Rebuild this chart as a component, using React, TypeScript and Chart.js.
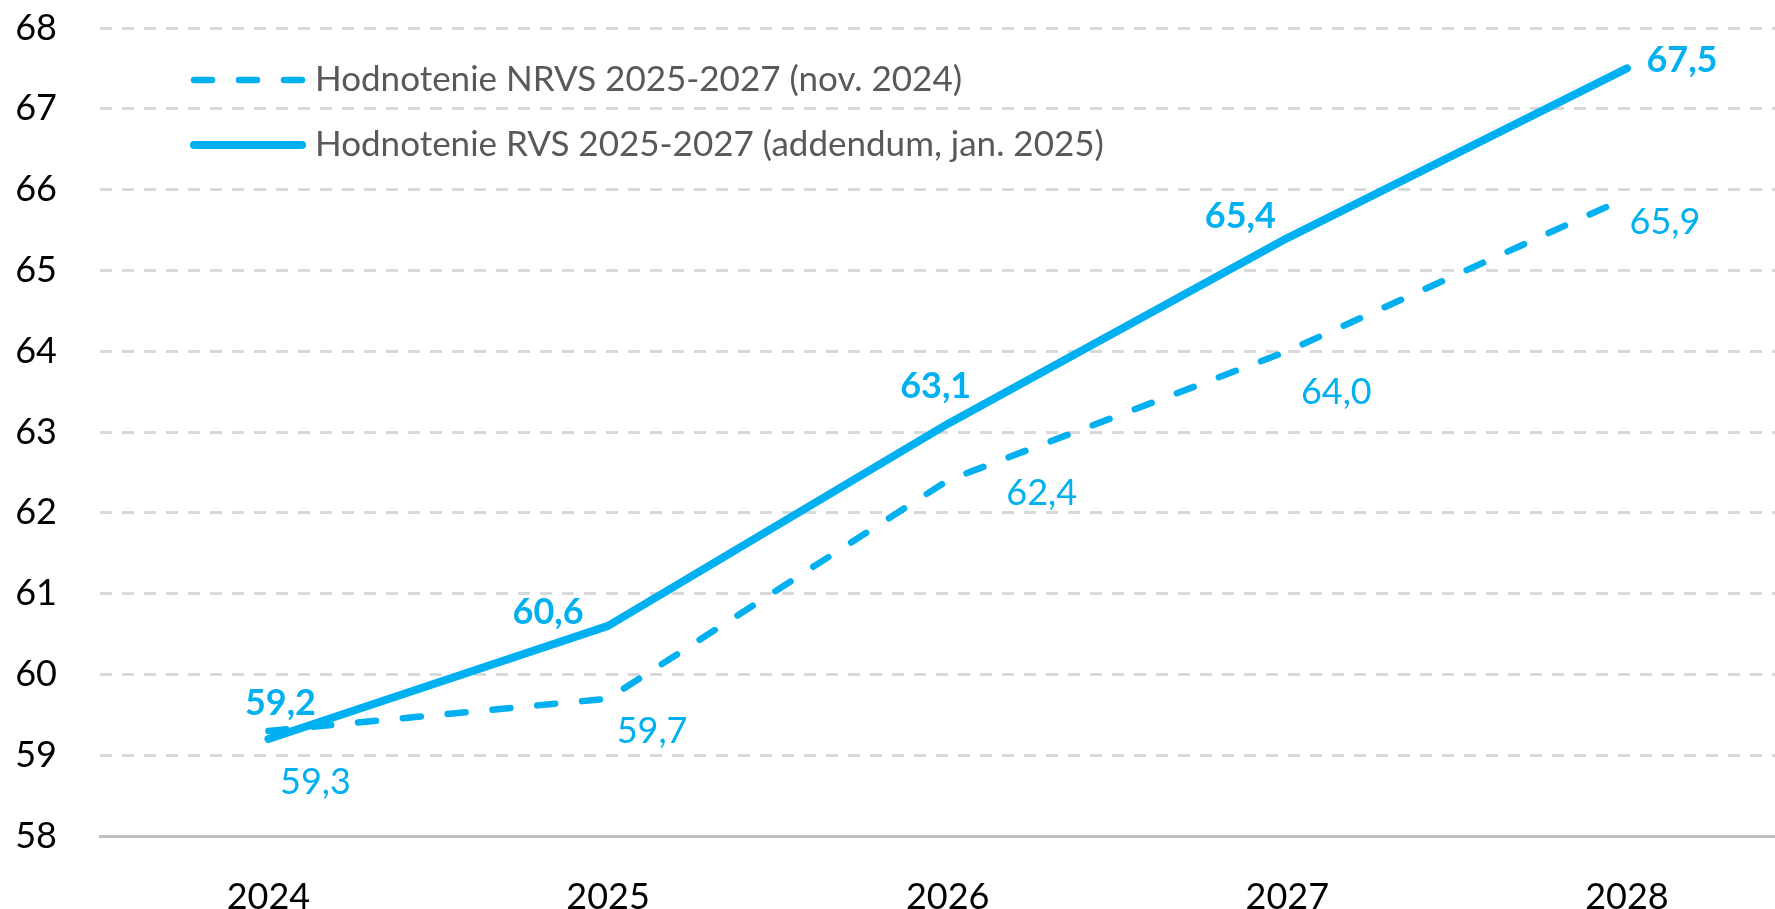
import React, { useEffect, useRef } from "react";
import { Chart, registerables } from "chart.js";

Chart.register(...registerables);

const categories = [2024, 2025, 2026, 2027, 2028];
const tickLabels = ["2024", "2025", "2026", "2027", "2028"];
const nrvsValues = [59.3, 59.7, 62.4, 64.0, 65.9];
const rvsValues = [59.2, 60.6, 63.1, 65.4, 67.5];
const nrvsLabel = "Hodnotenie NRVS 2025-2027 (nov. 2024)";
const rvsLabel = "Hodnotenie RVS 2025-2027 (addendum, jan. 2025)";

// label placement (pixel offsets of label centre from the point)
const nrvsLabelOffsets = [[47, 51], [44, 33], [94, 13], [49, 41], [38, 25]];
const rvsLabelOffsets = [[12, -36], [-60, -14], [-12, -38], [-47, -22], [55, -8]];

const BLUE = "#00B0F0";
const FONT = "Lato, 'Noto Sans', sans-serif";

const fmt = (v: number) => v.toFixed(1).replace(".", ",");

const labelPlugin = {
  id: "pointLabels",
  afterDatasetsDraw(chart: any) {
    const ctx = chart.ctx;
    ctx.save();
    ctx.textAlign = "center";
    ctx.textBaseline = "middle";
    ctx.fillStyle = BLUE;
    chart.data.datasets.forEach((ds: any, i: number) => {
      const meta = chart.getDatasetMeta(i);
      const offs = i === 0 ? nrvsLabelOffsets : rvsLabelOffsets;
      ctx.font = (i === 0 ? "normal " : "bold ") + "36px " + FONT;
      meta.data.forEach((el: any, j: number) => {
        const v = ds.data[j].y;
        ctx.fillText(fmt(v), el.x + offs[j][0], el.y + offs[j][1]);
      });
    });
    ctx.restore();
  },
};

const legendPlugin = {
  id: "customLegend",
  afterDraw(chart: any) {
    const ctx = chart.ctx;
    ctx.save();
    ctx.strokeStyle = BLUE;
    ctx.lineCap = "round";
    ctx.lineWidth = 6.5;
    ctx.setLineDash([18, 27]);
    ctx.beginPath();
    ctx.moveTo(194, 80);
    ctx.lineTo(302, 80);
    ctx.stroke();
    ctx.setLineDash([]);
    ctx.lineWidth = 8;
    ctx.beginPath();
    ctx.moveTo(194, 145);
    ctx.lineTo(302, 145);
    ctx.stroke();
    ctx.fillStyle = "#595959";
    ctx.font = "35px " + FONT;
    ctx.textAlign = "left";
    ctx.textBaseline = "middle";
    ctx.fillText(nrvsLabel, 315, 80);
    ctx.fillText(rvsLabel, 315, 145);
    ctx.restore();
  },
};

export default function App() {
  const ref = useRef<HTMLCanvasElement>(null);
  useEffect(() => {
    document.body.style.margin = "0";
    const canvas = ref.current!;
    const chart = new Chart(canvas, {
      type: "line",
      data: {
        datasets: [
          {
            label: nrvsLabel,
            data: categories.map((c, i) => ({ x: c, y: nrvsValues[i] })),
            borderColor: BLUE,
            borderWidth: 6.5,
            borderDash: [18, 27],
            borderCapStyle: "round",
            borderJoinStyle: "round",
            pointRadius: 0,
            fill: false,
            tension: 0,
          },
          {
            label: rvsLabel,
            data: categories.map((c, i) => ({ x: c, y: rvsValues[i] })),
            borderColor: BLUE,
            borderWidth: 8,
            borderCapStyle: "round",
            borderJoinStyle: "round",
            pointRadius: 0,
            fill: false,
            tension: 0,
          },
        ],
      },
      options: {
        responsive: false,
        animation: false,
        layout: { padding: { top: 28, right: 0, left: 0, bottom: 0 } },
        plugins: {
          legend: { display: false },
          tooltip: { enabled: false },
        },
        scales: {
          x: {
            type: "linear",
            min: 2023.504,
            max: 2028.436,
            afterBuildTicks: (scale: any) => {
              scale.ticks = categories.map((c) => ({ value: c }));
            },
            afterFit: (scale: any) => {
              scale.height = 73;
              scale.paddingLeft = 0;
              scale.paddingRight = 0;
            },
            grid: { display: false, drawTicks: false },
            border: { display: true, color: "#bfbfbf", width: 3 },
            ticks: {
              padding: 40,
              color: "#000",
              font: { family: FONT, size: 36 },
              maxRotation: 0,
              autoSkip: false,
              callback: (v: any) => tickLabels[categories.indexOf(Number(v))] ?? "",
            },
          },
          y: {
            min: 58,
            max: 68,
            afterFit: (scale: any) => {
              scale.width = 100;
              scale.paddingTop = 0;
              scale.paddingBottom = 0;
            },
            ticks: {
              stepSize: 1,
              padding: 43,
              color: "#000",
              font: { family: FONT, size: 36 },
            },
            grid: {
              color: (c: any) => (c.tick && c.tick.value === 58 ? "rgba(0,0,0,0)" : "#d9d9d9"),
              lineWidth: 3,
              drawTicks: false,
            },
            border: { display: false, dash: [12, 10] },
          },
        },
      },
      plugins: [labelPlugin, legendPlugin],
    } as any);
    return () => chart.destroy();
  }, []);
  return (
    <div style={{ width: 1775, height: 909 }}>
      <canvas ref={ref} width={1775} height={909} />
    </div>
  );
}
